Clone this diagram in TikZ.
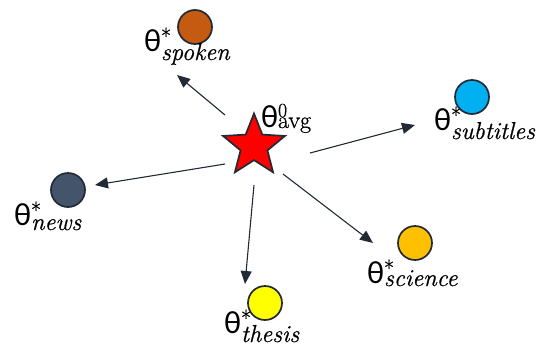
\documentclass[tikz,border=0pt]{standalone}
\usepackage{fontspec}
\usetikzlibrary{arrows.meta,shapes.geometric}
\newfontfamily\thetafont{Carlito}
\newfontfamily\idxfont{Latin Modern Roman}[FakeBold=0.7]
\definecolor{edgedark}{HTML}{222A35}
\definecolor{spokencol}{HTML}{C55A11}
\definecolor{subtitlescol}{HTML}{00B0F0}
\definecolor{newscol}{HTML}{44546A}
\definecolor{sciencecol}{HTML}{FFC000}
\definecolor{thesiscol}{HTML}{FFFF00}
% theta with a superscript (#1) and a subscript (#2) lowered by #3
\newcommand{\paramlabel}[3]{%
  {\thetafont\fontsize{32}{32}\selectfont θ}%
  \rlap{\raisebox{7pt}{\idxfont\fontsize{22}{22}\selectfont #1}}%
  \raisebox{-#3}{\idxfont\fontsize{24.5}{24.5}\selectfont #2}}
\tikzset{
  domaindot/.style={circle, draw=edgedark, line width=1.7pt, minimum size=34pt, inner sep=0pt},
  plabel/.style={anchor=base west, inner sep=0pt, outer sep=0pt},
  movearrow/.style={draw=edgedark, line width=1.1pt, -{Triangle[length=13pt,width=11pt]}},
}
\begin{document}
\begin{tikzpicture}[x=1pt,y=-1pt]
\useasboundingbox (0,0) rectangle (541,346);

% averaged starting point
\node[star, star points=5, star point ratio=2.3, minimum size=65pt, inner sep=0pt,
      fill=red, draw=edgedark, line width=1.7pt] (avg) at (254,146) {};
\node[plabel] (lavg) at (261,127)
  {{\thetafont\fontsize{32}{32}\selectfont θ}\rlap{\raisebox{10pt}{\idxfont\fontsize{20}{20}\selectfont 0}}\raisebox{-1pt}{\idxfont\fontsize{24}{24}\selectfont avg}};

% fine-tuned domain models
\node[domaindot, fill=spokencol]    (spoken)    at (195,27)  {};
\node[domaindot, fill=subtitlescol] (subtitles) at (472,97)  {};
\node[domaindot, fill=newscol]      (news)      at (68,190)  {};
\node[domaindot, fill=sciencecol]   (science)   at (415,243) {};
\node[domaindot, fill=thesiscol]    (thesis)    at (265,303) {};

\node[plabel] (lspoken)    at (144,51)  {\paramlabel{*}{\itshape spoken}{9pt}};
\node[plabel] (lsubtitles) at (434,130) {\paramlabel{*}{\itshape subtitles}{9pt}};
\node[plabel] (lnews)      at (14,225)  {\paramlabel{*}{\itshape news}{5pt}};
\node[plabel] (lscience)   at (367,283) {\paramlabel{*}{\itshape science}{3pt}};
\node[plabel] (lthesis)    at (224,333) {\paramlabel{*}{\itshape thesis}{9pt}};

% arrow end points
\coordinate (s0) at (225,115); \coordinate (s1) at (177,75);
\coordinate (n0) at (225,164); \coordinate (n1) at (95,185);
\coordinate (u0) at (310,153); \coordinate (u1) at (415,125);
\coordinate (c0) at (283,174); \coordinate (c1) at (373,243);
\coordinate (t0) at (254,185); \coordinate (t1) at (245,284);

\draw[movearrow] (s0) -- (s1);
\draw[movearrow] (n0) -- (n1);
\draw[movearrow] (u0) -- (u1);
\draw[movearrow] (c0) -- (c1);
\draw[movearrow] (t0) -- (t1);
\end{tikzpicture}
\end{document}
